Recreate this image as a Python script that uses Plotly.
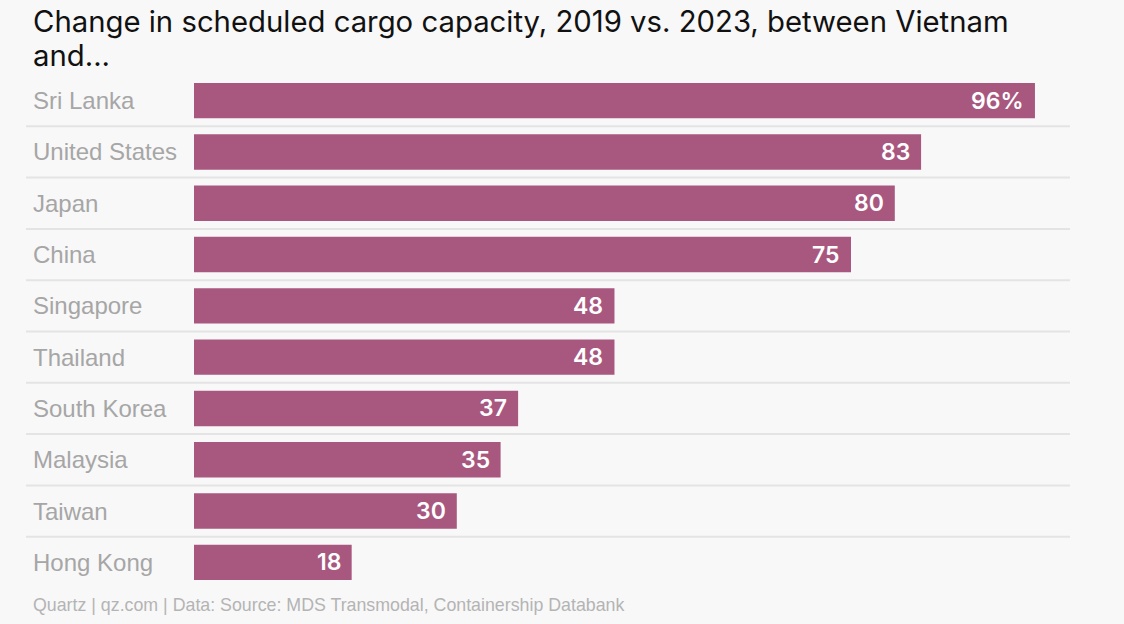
import plotly.graph_objects as go

countries = ["Sri Lanka", "United States", "Japan", "China", "Singapore",
             "Thailand", "South Korea", "Malaysia", "Taiwan", "Hong Kong"]
values = [96, 83, 80, 75, 48, 48, 37, 35, 30, 18]
value_labels = ["96%", "83", "80", "75", "48", "48", "37", "35", "30", "18"]

title_lines = ["Change in scheduled cargo capacity, 2019 vs. 2023, between Vietnam", "and..."]
footer = "Quartz | qz.com | Data: Source: MDS Transmodal, Containership Databank"

BAR = "#a8587f"
BG = "#f8f8f8"

W, H = 1124, 624
L, R, T, B = 194, 54, 75, 36
pw = W - L - R
ph = H - T - B

def px_x(p):
    return (p - L) / pw

def px_y(p):
    return 1 - (p - T) / ph

fig = go.Figure()
fig.add_trace(go.Bar(
    x=values, y=countries, orientation="h",
    marker=dict(color=BAR, line=dict(width=0)),
    width=0.69, hoverinfo="skip",
))

for c, v, t in zip(countries, values, value_labels):
    fig.add_annotation(x=v, y=c, xref="x", yref="y", text=t, showarrow=False,
                       xanchor="right", xshift=-9,
                       font=dict(family="Inter, Liberation Sans", size=23, color="white", weight=600))
    fig.add_annotation(x=px_x(31), y=c, xref="paper", yref="y", text=c,
                       showarrow=False, xanchor="left",
                       font=dict(family="Liberation Sans, Arial", size=24, color="#a6a6a6"))

for i in range(len(countries) - 1):
    fig.add_shape(type="line", xref="paper", yref="y",
                  x0=px_x(26), x1=1.0, y0=i + 0.5, y1=i + 0.5,
                  line=dict(color="#e4e4e4", width=2), layer="below")

for k, line in enumerate(title_lines):
    fig.add_annotation(x=px_x(31), y=px_y(22 + 33 * k), xref="paper", yref="paper",
                       yanchor="middle", xanchor="left", align="left",
                       text=line, showarrow=False,
                       font=dict(family="Inter, Liberation Sans", size=29.3, color="#111111"))
fig.add_annotation(x=px_x(31), y=px_y(605), xref="paper", yref="paper",
                   yanchor="middle", xanchor="left",
                   text=footer, showarrow=False,
                   font=dict(family="Liberation Sans, Arial", size=17.8, color="#b4b4b4"))

fig.update_layout(
    width=W, height=H,
    margin=dict(l=L, r=R, t=T, b=B, autoexpand=False),
    paper_bgcolor=BG, plot_bgcolor=BG,
    showlegend=False,
    xaxis=dict(range=[0, 100], showgrid=False, zeroline=False, showticklabels=False,
               fixedrange=True),
    yaxis=dict(range=[9.5, -0.5], showgrid=False, zeroline=False,
               showticklabels=False),
)

fig.write_html("out.html")
